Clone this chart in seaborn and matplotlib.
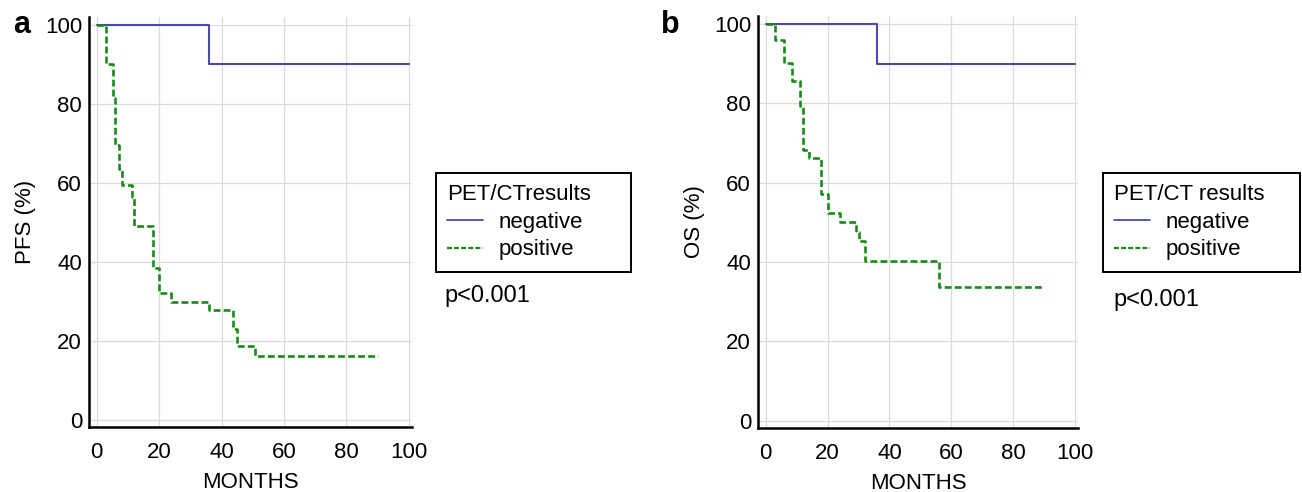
import numpy as np
import pandas as pd
import seaborn as sns
import matplotlib.pyplot as plt
from matplotlib.ticker import MultipleLocator
from matplotlib.lines import Line2D

# Kaplan-Meier step points (time in months, survival in %)
pfs_neg_t = [0, 36, 100]
pfs_neg_s = [100, 90, 90]
pfs_pos_t = [0, 3, 5.1, 5.9, 7.2, 8.0, 11.2, 12.0, 18.1, 20.0, 23.8, 36.0, 43.7, 44.8, 50.6, 90]
pfs_pos_s = [100, 90, 81.4, 69.6, 63.4, 59.4, 56.5, 49.1, 38.5, 32.1, 29.8, 27.7, 23.1, 18.6, 16.3, 16.3]

os_neg_t = [0, 36, 100]
os_neg_s = [100, 90, 90]
os_pos_t = [0, 2.9, 5.9, 8.6, 11.0, 11.9, 14.0, 17.8, 20.0, 23.9, 29.1, 30.1, 32.0, 56.1, 90]
os_pos_s = [100, 96, 90.1, 85.7, 79.4, 68.3, 66.3, 57.2, 52.3, 50.0, 47.6, 45.3, 40.4, 33.7, 33.7]

groups = ['negative', 'positive']
colors = {'negative': '#4b4ba6', 'positive': '#1a8a1a'}


def make_df(neg_t, neg_s, pos_t, pos_s):
    return pd.DataFrame({
        'months': neg_t + pos_t,
        'surv': neg_s + pos_s,
        'group': ['negative'] * len(neg_t) + ['positive'] * len(pos_t),
    })


pfs = make_df(pfs_neg_t, pfs_neg_s, pfs_pos_t, pfs_pos_s)
os_df = make_df(os_neg_t, os_neg_s, os_pos_t, os_pos_s)

sns.set_theme(style='white')
plt.rcParams['font.family'] = ['Liberation Sans', 'DejaVu Sans']
plt.rcParams['text.color'] = 'black'
plt.rcParams['axes.labelcolor'] = 'black'
plt.rcParams['legend.title_fontsize'] = 16

W, H = 1302, 492
fig = plt.figure(figsize=(W / 100, H / 100), dpi=100)


def px_axes(left, right, top, bottom):
    return fig.add_axes([left / W, 1 - bottom / H, (right - left) / W, (bottom - top) / H])


ax_a = px_axes(89, 412, 17, 427)
ax_b = px_axes(758, 1078, 16, 428)


def draw(ax, df, ylabel):
    for g in groups:
        sub = df[df['group'] == g]
        sns.lineplot(data=sub, x='months', y='surv', ax=ax, estimator=None,
                     color=colors[g], drawstyle='steps-post',
                     lw=1.5 if g == 'negative' else 1.9,
                     linestyle='-' if g == 'negative' else (0, (2.6, 1.2)))
    ax.set_xlim(-2.5, 101)
    ax.set_ylim(-1.8, 102)
    ax.xaxis.set_major_locator(MultipleLocator(20))
    ax.yaxis.set_major_locator(MultipleLocator(20))
    ax.xaxis.set_minor_locator(MultipleLocator(10))
    ax.yaxis.set_minor_locator(MultipleLocator(10))
    ax.grid(True, which='major', color='#dcdcdc', lw=0.9)
    for s in ['top', 'right']:
        ax.spines[s].set_visible(False)
    for s in ['left', 'bottom']:
        ax.spines[s].set_color('black')
        ax.spines[s].set_linewidth(1.8)
    ax.tick_params(axis='both', which='both', direction='in', colors='#555555',
                   labelcolor='black', labelsize=16)
    ax.tick_params(which='major', length=3, width=0.8)
    ax.tick_params(which='minor', length=2.5, width=0.8)
    ax.tick_params(axis='x', which='major', pad=11)
    ax.tick_params(axis='y', which='major', pad=5)
    ax.set_xlabel('MONTHS', fontsize=16, labelpad=6)
    ax.set_ylabel(ylabel, fontsize=16, labelpad=6)


draw(ax_a, pfs, 'PFS (%)')
draw(ax_b, os_df, 'OS (%)')

handles = [Line2D([], [], color=colors['negative'], lw=1.3),
           Line2D([], [], color=colors['positive'], lw=1.6, linestyle=(0, (2.2, 1.0)))]


def add_legend(title, x0, x1, y):
    leg = fig.legend(handles, groups, title=title, loc='upper left',
                     bbox_to_anchor=(x0 / W, 1 - y / H - 0.01, (x1 - x0) / W, 0.01),
                     mode='expand', fontsize=16,
                     frameon=True, fancybox=False, edgecolor='black', framealpha=1,
                     handlelength=1.6, handletextpad=0.7, labelspacing=0.3,
                     borderpad=0.5, borderaxespad=0)
    leg.get_frame().set_linewidth(1.4)
    leg._legend_box.align = 'left'
    return leg


add_legend('PET/CTresults', 436, 631, 173)
add_legend('PET/CT results', 1103, 1300, 173)

fig.text(444 / W, 1 - 296 / H, 'p<0.001', fontsize=17, va='center', ha='left')
fig.text(1113 / W, 1 - 300 / H, 'p<0.001', fontsize=17, va='center', ha='left')

fig.text(13 / W, 1 - 25 / H, 'a', fontsize=22, fontweight='bold', va='center', ha='left')
fig.text(661 / W, 1 - 25 / H, 'b', fontsize=22, fontweight='bold', va='center', ha='left')

fig.savefig('out.png', dpi=100)
